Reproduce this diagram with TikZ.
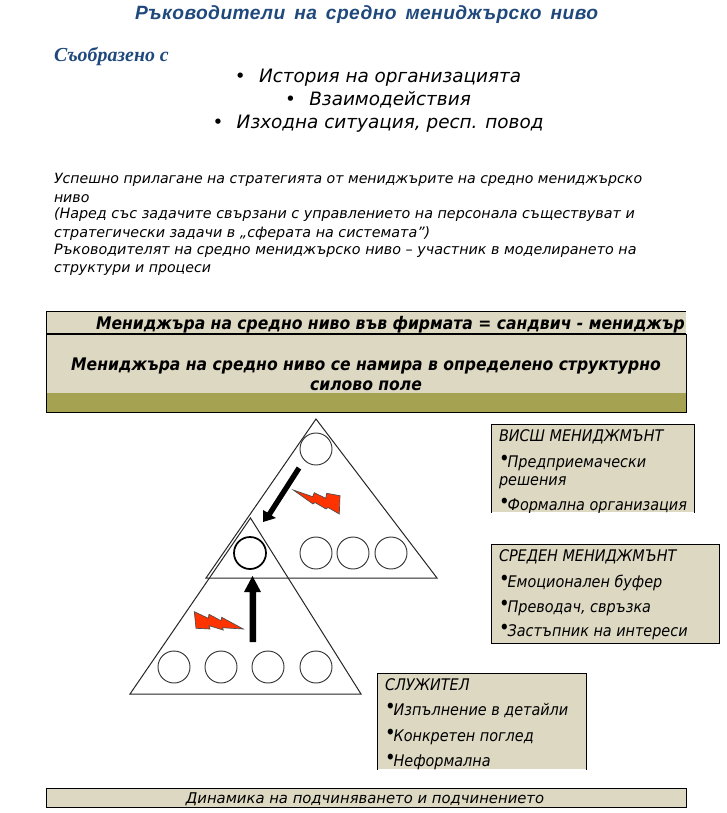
\documentclass[tikz,border=0pt]{standalone}
\usepackage{fontspec}
\setmainfont{DejaVu Sans}
\newfontfamily\verd{DejaVu Sans}
\newfontfamily\cond{DejaVu Sans Condensed}
\newfontfamily\arl[LetterSpace=2.2]{Liberation Sans}
\newfontfamily\ser{Liberation Serif}
\definecolor{tan}{HTML}{DDD8C2}
\definecolor{olive}{HTML}{A5A352}
\definecolor{tblue}{HTML}{1F497D}
\definecolor{bolt}{HTML}{FF3300}
\newcommand{\bul}[1]{{\fontsize{#1}{#1}\selectfont\raisebox{0.1ex}{•}}\hspace{-1.5pt}}
\tikzset{
  every node/.style={inner sep=0pt,outer sep=0pt,anchor=base west},
  tri/.style={draw=black!85,line width=0.75pt,line join=miter},
  disc/.style={circle,draw=black!80,line width=0.7pt,minimum size=24pt,anchor=center},
  discb/.style={disc,draw=black,line width=1.3pt},
  panel/.style={fill=tan,draw=black,line width=0.75pt},
  boltshape/.style={fill=bolt,draw=black!70,line width=0.5pt,line join=miter},
  body/.style={font=\verd\itshape\fontsize{10.6}{12}\selectfont},
  bodyw/.style={font=\verd\itshape\fontsize{10.73}{12}\selectfont},
  lead/.style={font=\verd\itshape\fontsize{13.8}{16}\selectfont,anchor=base},
  boxt/.style={font=\cond\itshape\fontsize{12}{14}\selectfont},
  head/.style={font=\cond\bfseries\itshape\fontsize{13}{15}\selectfont},
}
\begin{document}
\begin{tikzpicture}[x=0.75pt,y=-0.75pt]
\useasboundingbox (0,0) rectangle (727,813);
\fill[white] (0,0) rectangle (727,813);
\node[font=\arl\bfseries\itshape\fontsize{14.4}{16}\selectfont,text=tblue] (title) at (135,20) {Ръководители\, на\, средно\, мениджърско\, ниво};
\node[font=\ser\bfseries\itshape\fontsize{14.9}{16}\selectfont,text=tblue] (sub) at (54,62) {Съобразено с};
\node[lead] (l1) at (378,83) {•\hspace{10pt}История на организацията};
\node[lead] (l2) at (378,106) {•\hspace{10pt}Взаимодействия};
\node[lead] (l3) at (378,129) {•\hspace{10pt}Изходна ситуация, респ. повод};
\node[body] (p1) at (54,183) {Успешно прилагане на стратегията от мениджърите на средно мениджърско};
\node[body] (p2) at (54,202) {ниво};
\node[bodyw] (p3) at (54,218) {(Наред със задачите свързани с управлението на персонала съществуват и};
\node[bodyw] (p4) at (54,237) {стратегически задачи в „сферата на системата”)};
\node[bodyw] (p5) at (54,254) {Ръководителят на средно мениджърско ниво – участник в моделирането на};
\node[body] (p6) at (54,272) {структури и процеси};
% header panels
\fill[tan] (46,311) rectangle (686,334);
\draw[black,line width=0.75pt] (686,311) -- (46,311) -- (46,334);
\node[head] (h1) at (96,329) {Мениджъра на средно ниво във фирмата = сандвич - мениджър};
\fill[tan] (46,334) rectangle (686,393);
\fill[olive] (46,393) rectangle (686,412);
\draw[black,line width=0.75pt] (46,334) rectangle (686,412);
\draw[black,line width=1.2pt] (46,334) -- (686,334);
\node[head,anchor=base] (h2) at (366,370) {Мениджъра на средно ниво се намира в определено структурно};
\node[head,anchor=base] (h3) at (366,390) {силово поле};
% triangles
\draw[tri] (316,419) -- (206,578) -- (437,578) -- cycle;
\draw[tri] (250.5,518) -- (130,694) -- (361,694) -- cycle;
\node[disc] (a0) at (316,449) {};
\node[discb] (m0) at (250,553) {};
\node[disc] (a1) at (316,553) {};
\node[disc] (a2) at (353,553) {};
\node[disc] (a3) at (391,553) {};
\node[disc] (b0) at (174,667) {};
\node[disc] (b1) at (221,667) {};
\node[disc] (b2) at (268,667) {};
\node[disc] (b3) at (316,667) {};
% arrows
\fill[black] (301.2,469.5) -- (271.7,515.5) -- (276,518) -- (263,522) -- (263,510) -- (267.3,512.5) -- (296.8,466.5) -- cycle;
\fill[black] (249.5,642) -- (249.5,592) -- (244,592) -- (252.5,576) -- (261,592) -- (256,592) -- (256,642) -- cycle;
% bolts
\draw[boltshape] (293.3,490) -- (312.7,496.7) -- (314.3,492.7) -- (325.7,498.3) -- (326.7,493.3) -- (340,495.7) -- (339.3,514) -- (328,507.5) -- (326,509) -- (315,502.5) -- (313,504) -- cycle;
\draw[boltshape] (194.3,611.7) -- (208.3,618.3) -- (209,614.3) -- (221,620.7) -- (221.7,617.3) -- (243.3,629) -- (222.3,627.7) -- (223.3,630) -- (209,625.7) -- (210,629) -- (196,628.3) -- cycle;
% right boxes
\begin{scope}
\clip (489,422) rectangle (696,512);
\fill[tan] (491,424) rectangle (694,512);
\draw[black,line width=0.75pt] (491,520) -- (491,424) -- (694,424) -- (694,520);
\node[boxt] (t1) at (499,441) {ВИСШ МЕНИДЖМЪНТ};
\node[boxt] (t2) at (499,467) {\bul{15}Предприемачески};
\node[boxt] (t3) at (499,485) {решения};
\node[boxt] (t4) at (499,510) {\bul{15}Формална организация};
\end{scope}
\draw[panel] (491,544) rectangle (719,643);
\node[boxt] (u1) at (499,561) {СРЕДЕН МЕНИДЖМЪНТ};
\node[boxt] (u2) at (499,587) {\bul{15}Емоционален буфер};
\node[boxt] (u3) at (499,612) {\bul{15}Преводач, свръзка};
\node[boxt] (u4) at (499,636) {\bul{15}Застъпник на интереси};
\begin{scope}
\clip (375,671) rectangle (588,769);
\fill[tan] (377,673) rectangle (586,769);
\draw[black,line width=0.75pt] (377,780) -- (377,673) -- (586,673) -- (586,780);
\node[boxt] (v1) at (385,690) {СЛУЖИТЕЛ};
\node[boxt] (v2) at (385,715) {\bul{15}Изпълнение в детайли};
\node[boxt] (v3) at (385,741) {\bul{15}Конкретен поглед};
\node[boxt] (v4) at (385,766) {\bul{15}Неформална};
\end{scope}
\draw[panel] (46,788) rectangle (686,807);
\node[font=\verd\itshape\fontsize{11.1}{13}\selectfont,anchor=base] (foot) at (365,803) {Динамика на подчиняването и подчинението};
\end{tikzpicture}
\end{document}
